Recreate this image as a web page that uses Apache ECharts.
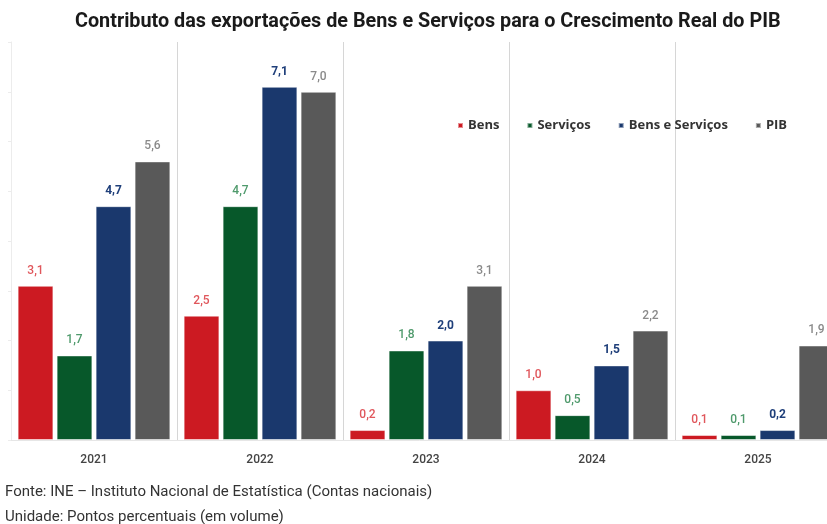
<!DOCTYPE html>
<html>
<head>
<meta charset="utf-8">
<script src="https://cdn.jsdelivr.net/npm/echarts@6/dist/echarts.min.js"></script>
<style>
  html, body { margin: 0; padding: 0; background: #fff; }
  #main { width: 827px; height: 524px; }
</style>
</head>
<body>
<div id="main"></div>
<script>
// data
var years = ['2021', '2022', '2023', '2024', '2025'];
var bens = [3.1, 2.5, 0.2, 1.0, 0.1];
var servicos = [1.7, 4.7, 1.8, 0.5, 0.1];
var bensServicos = [4.7, 7.1, 2.0, 1.5, 0.2];
var pib = [5.6, 7.0, 3.1, 2.2, 1.9];

var fmt = function (p) {
    return p.value.toFixed(1).replace('.', ',');
};

function makeSeries(name, data, color, labelColor, bold) {
    return {
        name: name,
        type: 'bar',
        data: data,
        barGap: '9%',
        barCategoryGap: '8%',
        itemStyle: { color: color, borderColor: 'rgba(255,255,255,0.5)', borderWidth: 1 },
        label: {
            show: true,
            position: 'top',
            distance: 9,
            formatter: fmt,
            color: labelColor,
            fontFamily: 'Roboto',
            fontSize: 12,
            fontWeight: bold ? 'bold' : 500
        }
    };
}

var myChart = echarts.init(document.getElementById('main'));

var option = {
    backgroundColor: '#fff',
    animation: false,
    title: {
        text: 'Contributo das exportações de Bens e Serviços para o Crescimento Real do PIB',
        left: 70,
        top: 7,
        textStyle: { fontFamily: 'Roboto', fontSize: 19.8, fontWeight: 'bold', color: '#1a1a1a' }
    },
    legend: {
        data: ['Bens', 'Serviços', 'Bens e Serviços', 'PIB'],
        left: 452,
        top: 114,
        icon: 'rect',
        itemWidth: 5,
        itemHeight: 5,
        itemGap: 27,
        textStyle: { fontFamily: 'Open Sans', fontSize: 13, fontWeight: 'bold', color: '#333' }
    },
    // grid runs past the right edge, the last year is cut like in the source
    grid: { left: 11, width: 830, top: 42, bottom: 84, outerBoundsMode: 'none' },
    xAxis: {
        type: 'category',
        data: years,
        axisLine: { show: true, lineStyle: { color: '#e6e6e6' } },
        axisTick: { show: false },
        axisLabel: { color: '#444', fontFamily: 'Roboto', fontSize: 12, fontWeight: 500, margin: 14 },
        splitLine: { show: true, lineStyle: { color: '#d6d6d6', width: 1 } }
    },
    yAxis: {
        type: 'value',
        min: 0,
        max: 8,
        interval: 1,
        axisLine: { show: true, lineStyle: { color: '#ececec' } },
        axisTick: { show: true, length: 3, lineStyle: { color: '#ececec' } },
        axisLabel: { show: false },
        splitLine: { show: false }
    },
    series: [
        makeSeries('Bens', bens, '#cc1a22', '#e0575c', false),
        makeSeries('Serviços', servicos, '#07582a', '#4f9a6c', false),
        makeSeries('Bens e Serviços', bensServicos, '#1a386d', '#1f3f7a', true),
        makeSeries('PIB', pib, '#595959', '#8a8a8a', false)
    ],
    graphic: [
        {
            type: 'text', left: 5, top: 485,
            style: { text: 'Fonte: INE – Instituto Nacional de Estatística (Contas nacionais)', fill: '#333', fontFamily: 'Roboto', fontSize: 15 }
        },
        {
            type: 'text', left: 5, top: 510,
            style: { text: 'Unidade: Pontos percentuais (em volume)', fill: '#333', fontFamily: 'Roboto', fontSize: 15 }
        }
    ]
};

myChart.setOption(option);
</script>
</body>
</html>
